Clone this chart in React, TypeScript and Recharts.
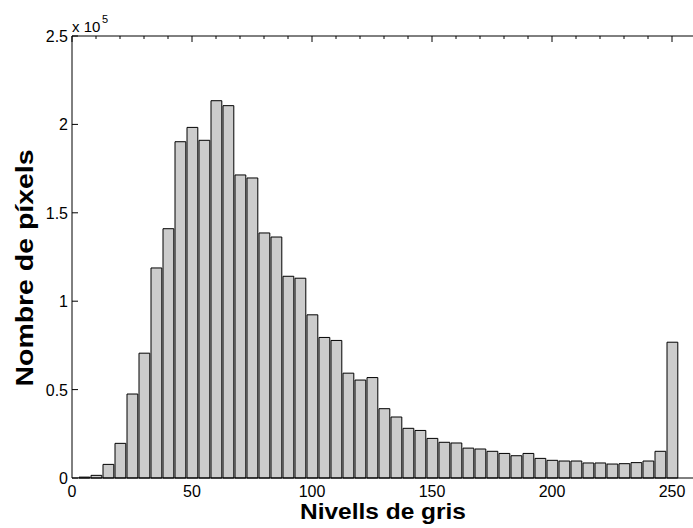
import { BarChart, Bar, XAxis, YAxis, Label } from 'recharts'

// histogram bins (grey level centres) and pixel counts
const grayLevels = [
  5, 10, 15, 20, 25, 30, 35, 40, 45, 50, 55, 60, 65, 70, 75, 80, 85, 90, 95, 100,
  105, 110, 115, 120, 125, 130, 135, 140, 145, 150, 155, 160, 165, 170, 175, 180,
  185, 190, 195, 200, 205, 210, 215, 220, 225, 230, 235, 240, 245, 250,
]
const pixelCounts = [
  500, 1500, 7700, 19600, 47500, 70600, 118800, 141000, 190200, 198300, 191000,
  213400, 210600, 171400, 169700, 138600, 136300, 114100, 113000, 92300, 79500,
  77800, 59300, 55400, 56800, 39200, 34500, 28100, 26900, 22400, 20200, 19800,
  16900, 16400, 15100, 13900, 12600, 13900, 11100, 10000, 9600, 9600, 8500, 8500,
  7900, 8100, 8700, 9600, 15100, 76800,
]

const xTicks = [
  0, 10, 20, 30, 40, 50, 60, 70, 80, 90, 100, 110, 120, 130, 140, 150, 160, 170,
  180, 190, 200, 210, 220, 230, 240, 250, 260,
]
const xLabelTicks = [0, 50, 100, 150, 200, 250]
const yTicks = [0, 50000, 100000, 150000, 200000, 250000]
const yTickLabels = ['0', '0.5', '1', '1.5', '2', '2.5']

const data = grayLevels.map((level, i) => ({ level, count: pixelCounts[i] }))

const FONT = '"Liberation Sans", Arial, Helvetica, sans-serif'

// bottom tick marks sit behind the bars in the original, so only labels here
const BottomTick = (props: any) => {
  const { x, y, payload } = props
  if (!xLabelTicks.includes(payload.value)) return <g />
  return (
    <text x={x} y={y + 19} textAnchor="middle" fontSize={16} fontFamily={FONT} fill="#000">
      {payload.value}
    </text>
  )
}

const TopTick = (props: any) => {
  const { x, y, payload } = props
  const major = xLabelTicks.includes(payload.value)
  return <line x1={x} y1={y} x2={x} y2={y + (major ? 6 : 3)} stroke="#000" />
}

const LeftTick = (props: any) => {
  const { x, y, index } = props
  return (
    <g>
      <line x1={x} y1={y} x2={x + 6} y2={y} stroke="#000" />
      <text x={x - 4} y={y + 6} textAnchor="end" fontSize={16} fontFamily={FONT} fill="#000">
        {yTickLabels[index]}
      </text>
    </g>
  )
}

const RightTick = (props: any) => {
  const { x, y } = props
  return <line x1={x} y1={y} x2={x - 6} y2={y} stroke="#000" />
}

const XTitle = (props: any) => {
  const { viewBox } = props
  const cx = viewBox.x + viewBox.width / 2 - 1
  return (
    <text
      x={cx}
      y={519}
      textAnchor="middle"
      fontSize={22}
      fontWeight="bold"
      fontFamily={FONT}
      fill="#000"
      textLength={166}
      lengthAdjust="spacingAndGlyphs"
    >
      Nivells de gris
    </text>
  )
}

const YTitle = () => (
  <g>
    <text
      transform="translate(33, 268) rotate(-90)"
      textAnchor="middle"
      fontSize={23}
      fontWeight="bold"
      fontFamily={FONT}
      fill="#000"
      textLength={237}
      lengthAdjust="spacingAndGlyphs"
    >
      Nombre de píxels
    </text>
    <text x={72} y={32} fontSize={15} fontFamily={FONT} fill="#000">
      x 10
    </text>
    <text x={102} y={23} fontSize={11} fontFamily={FONT} fill="#000">
      5
    </text>
  </g>
)

export default function App() {
  return (
    <div style={{ position: 'absolute', left: 0, top: 0, background: '#fff' }}>
      <BarChart
        width={693}
        height={528}
        data={data}
        margin={{ top: 0, right: -3, bottom: 0, left: 0 }}
      >
        <XAxis
          dataKey="level"
          type="number"
          domain={[0, 260]}
          ticks={xTicks}
          interval={0}
          height={50}
          tickSize={0}
          tickMargin={0}
          tickLine={false}
          tick={BottomTick}
          axisLine={{ stroke: '#000' }}
        >
          <Label content={XTitle} />
        </XAxis>
        <XAxis
          xAxisId="top"
          orientation="top"
          dataKey="level"
          type="number"
          domain={[0, 260]}
          ticks={xTicks}
          interval={0}
          height={36}
          tickSize={0}
          tickMargin={0}
          tickLine={false}
          tick={TopTick}
          axisLine={{ stroke: '#000' }}
        />
        <YAxis
          type="number"
          domain={[0, 250000]}
          ticks={yTicks}
          interval={0}
          width={72}
          tickSize={0}
          tickMargin={0}
          tickLine={false}
          tick={LeftTick}
          axisLine={{ stroke: '#000' }}
        >
          <Label content={YTitle} />
        </YAxis>
        <YAxis
          yAxisId="right"
          orientation="right"
          type="number"
          domain={[0, 250000]}
          ticks={yTicks}
          interval={0}
          width={0}
          tickSize={0}
          tickMargin={0}
          tickLine={false}
          tick={RightTick}
          axisLine={{ stroke: '#000' }}
        />
        <Bar
          dataKey="count"
          fill="#cccccc"
          stroke="#000"
          strokeWidth={1}
          barSize={12}
          isAnimationActive={false}
        />
      </BarChart>
    </div>
  )
}
